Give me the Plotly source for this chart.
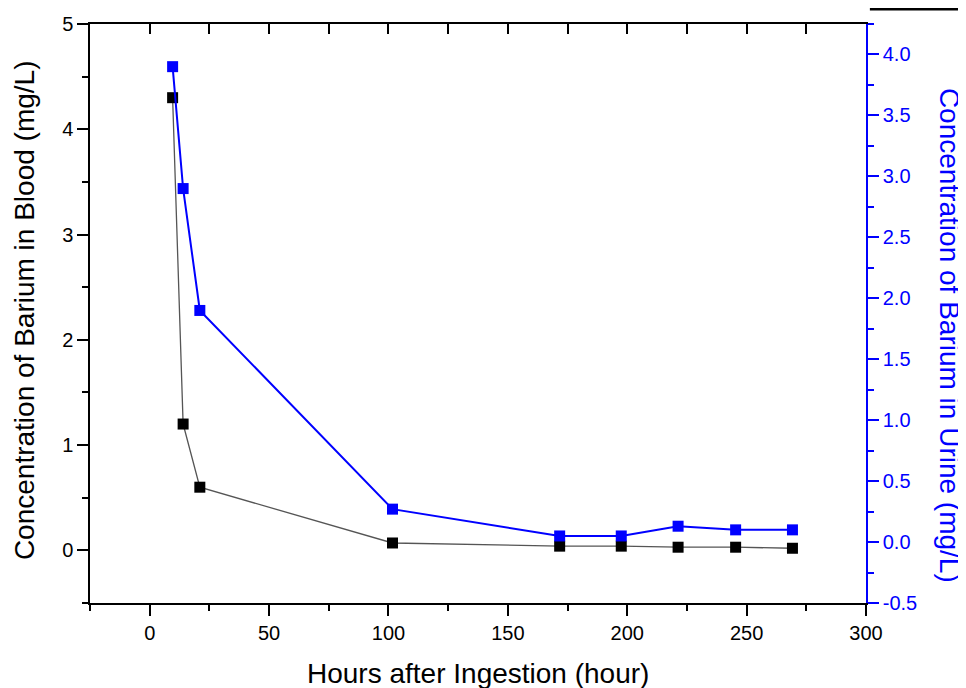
import plotly.graph_objects as go

hours = [9.6, 14.0, 21.0, 101.7, 171.7, 197.5, 221.3, 245.4, 269.2]
blood = [4.30, 1.20, 0.60, 0.07, 0.04, 0.04, 0.03, 0.03, 0.02]
urine = [3.90, 2.90, 1.90, 0.27, 0.05, 0.05, 0.13, 0.10, 0.10]

urine_tickvals = [-0.5, 0.0, 0.5, 1.0, 1.5, 2.0, 2.5, 3.0, 3.5, 4.0]
urine_ticktext = ["-0.5", "0.0", "0.5", "1.0", "1.5", "2.0", "2.5", "3.0", "3.5", "4.0"]

x_title = "Hours after Ingestion (hour)"
y_title = "Concentration of Barium in Blood (mg/L)"
y2_title = "Concentration of Barium in Urine (mg/L)"

FONT = "Liberation Sans, Arial, sans-serif"
BLUE = "#0000ff"
TITLE_SIZE = 28

fig = go.Figure()
fig.add_trace(go.Scatter(
    x=hours, y=blood, mode="lines+markers", showlegend=False,
    line=dict(color="#555555", width=1.3),
    marker=dict(symbol="square", size=11, color="black"),
))
fig.add_trace(go.Scatter(
    x=hours, y=urine, mode="lines+markers", showlegend=False, yaxis="y2",
    line=dict(color=BLUE, width=2),
    marker=dict(symbol="square", size=11, color=BLUE),
))
# invisible trace to activate the top mirror axis
fig.add_trace(go.Scatter(x=[hours[0]], y=[blood[0]], xaxis="x2", mode="markers",
                         marker=dict(opacity=0), showlegend=False, hoverinfo="skip"))

# the page body adds an 8px offset on the left/top
fig.update_layout(
    width=958, height=680,
    margin=dict(l=82, r=100, t=16, b=85),
    plot_bgcolor="white", paper_bgcolor="white",
    font=dict(family=FONT, size=20, color="black"),
    xaxis=dict(
        range=[-25, 300], tick0=0, dtick=50, ticks="outside", ticklen=11, tickwidth=1.5,
        tickcolor="black", showline=True, linecolor="black", linewidth=1.5,
        showgrid=False, zeroline=False, automargin=False,
        minor=dict(dtick=25, tick0=0, ticks="outside", ticklen=6, tickwidth=1.5, tickcolor="black"),
        tickfont=dict(size=20),
    ),
    xaxis2=dict(
        overlaying="x", side="top", range=[-25, 300], tick0=0, dtick=25,
        ticks="inside", ticklen=10, tickwidth=1.5, tickcolor="black",
        showline=True, linecolor="black", linewidth=1.5, showticklabels=False,
        showgrid=False, zeroline=False, automargin=False,
    ),
    yaxis=dict(
        range=[-0.5, 5], tick0=0, dtick=1, ticks="outside", ticklen=11, tickwidth=1.5,
        tickcolor="black", showline=True, linecolor="black", linewidth=1.5,
        showgrid=False, zeroline=False, automargin=False,
        minor=dict(dtick=0.5, tick0=0, ticks="outside", ticklen=6, tickwidth=1.5, tickcolor="black"),
        tickfont=dict(size=20),
    ),
    yaxis2=dict(
        overlaying="y", side="right", range=[-0.5, 4.25],
        tickvals=urine_tickvals, ticktext=urine_ticktext,
        ticks="outside", ticklen=11, tickwidth=1.5,
        tickcolor=BLUE, showline=True, linecolor=BLUE, linewidth=1.5,
        showgrid=False, zeroline=False, automargin=False,
        minor=dict(dtick=0.25, tick0=0, ticks="outside", ticklen=6, tickwidth=1.5, tickcolor=BLUE),
        tickfont=dict(size=20, color=BLUE),
    ),
    annotations=[
        dict(text=x_title, xref="paper", yref="paper", x=0.5, y=-0.121,
             xanchor="center", yanchor="middle", showarrow=False,
             font=dict(size=TITLE_SIZE, color="black")),
        dict(text=y_title, xref="paper", yref="paper", x=-0.0844, y=0.505,
             xanchor="center", yanchor="middle", textangle=-90, showarrow=False,
             font=dict(size=TITLE_SIZE, color="black")),
        dict(text=y2_title, xref="paper", yref="paper", x=1.107, y=0.463,
             xanchor="center", yanchor="middle", textangle=90, showarrow=False,
             font=dict(size=TITLE_SIZE, color=BLUE)),
    ],
    shapes=[dict(type="rect", xref="paper", yref="paper", x0=1.005, x1=1.13,
                 y0=1.0235, y1=1.031, fillcolor="black", line=dict(width=0))],
)

fig.write_html("out.html")
